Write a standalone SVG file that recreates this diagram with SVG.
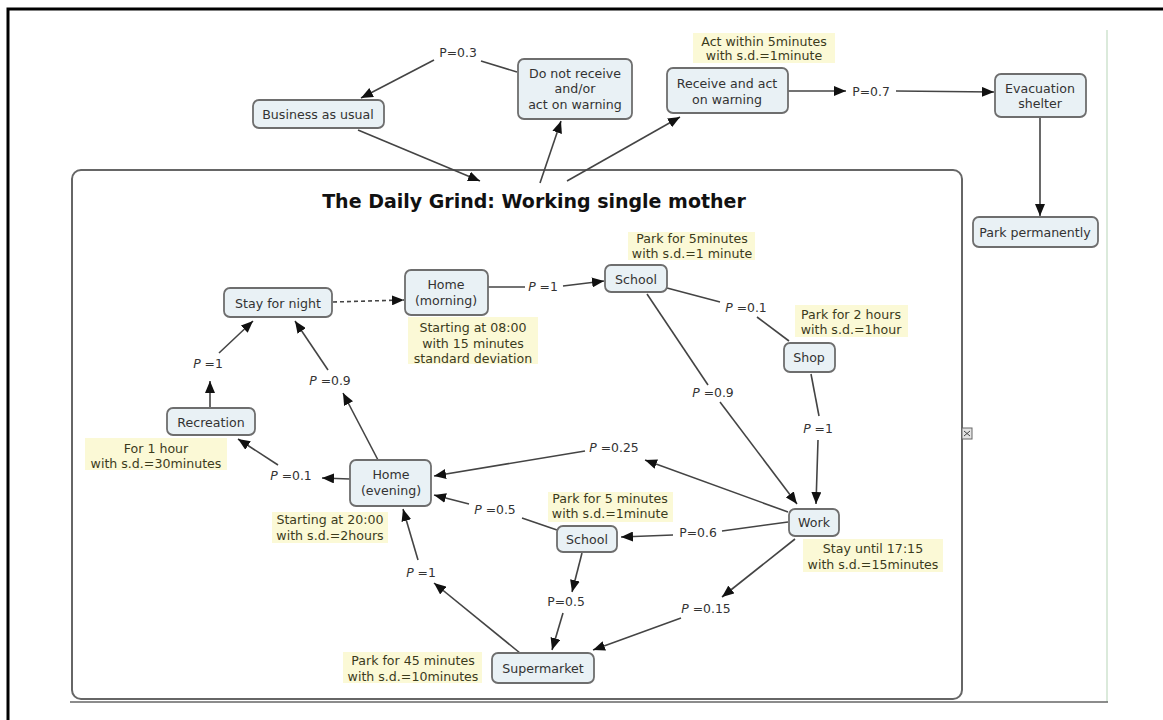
<svg xmlns="http://www.w3.org/2000/svg" width="1163" height="720" viewBox="0 0 1163 720">
  <defs>
    <marker id="arrow" viewBox="0 0 12 10" refX="12" refY="5" markerWidth="12" markerHeight="10" markerUnits="userSpaceOnUse" orient="auto">
      <path d="M0,0 L12,5 L0,10 Z" fill="#111"/>
    </marker>
    <style>
      .frame { stroke: #000; stroke-width: 3; fill: none; }
      .node rect { fill: #e9f1f5; stroke: #6e6e6e; stroke-width: 1.8; }
      .node text { font-family: "DejaVu Sans", Verdana, sans-serif; font-size: 12.6px; fill: #333; text-anchor: middle; }
      .note rect { fill: #fbf9d6; stroke: none; }
      .note text { font-family: "DejaVu Sans", Verdana, sans-serif; font-size: 12.6px; fill: #3b3b1c; text-anchor: middle; }
      .edge { stroke: #444; stroke-width: 1.6; fill: none; }
      .edge.arr { marker-end: url(#arrow); }
      .edge.dash { stroke-dasharray: 4 3; }
      .lbl { font-family: "DejaVu Sans", Verdana, sans-serif; font-size: 12.4px; fill: #333; text-anchor: middle; }
      .lbl .p { font-style: italic; }
      .title { font-family: "DejaVu Sans", Verdana, sans-serif; font-size: 19px; font-weight: bold; fill: #111; text-anchor: middle; }
    </style>
  </defs>

  <rect width="1163" height="720" fill="#fff"/>
  <!-- page frame -->
  <path class="frame" d="M8,720 L8,9 L1163,9"/>
  <!-- image edges -->
  <path d="M1107,30 L1107,702" stroke="#cfe3cf" stroke-width="1.5" fill="none"/>
  <path d="M70,702 L1108,702" stroke="#666" stroke-width="1.5" fill="none"/>

  <!-- sub-map container -->
  <g id="container">
    <rect x="72" y="170" width="890" height="529" rx="9" fill="#fff" stroke="#666" stroke-width="2"/>
    <text class="title" x="534" y="208">The Daily Grind: Working single mother</text>
    <g id="expand-icon">
      <rect x="962" y="428" width="10" height="11" fill="#e4e4e4" stroke="#666" stroke-width="1"/>
      <path d="M964,431 L967,433.5 L964,436 M970,431 L967,433.5 L970,436" stroke="#444" stroke-width="1" fill="none"/>
    </g>
  </g>

  <!-- connectors -->
  <g id="connectors">
    <path class="edge arr" d="M358,130 L480,181"/>
    <path class="edge arr" d="M540,183 L561,121"/>
    <path class="edge arr" d="M567,181 L680,117"/>
    <path class="edge" d="M517,72 L481,61"/>
    <path class="edge arr" d="M434,60 L361,98"/>
    <path class="edge arr" d="M788,91 L846,91"/>
    <path class="edge arr" d="M896,91 L994,92"/>
    <path class="edge arr" d="M1040,117 L1040,216"/>

    <path class="edge dash arr" d="M333,302 L404,300"/>
    <path class="edge" d="M488,287 L525,287"/>
    <path class="edge arr" d="M563,286 L604,281"/>
    <path class="edge" d="M667,288 L720,302"/>
    <path class="edge" d="M757,317 L789,341"/>
    <path class="edge" d="M647,294 L708,385"/>
    <path class="edge arr" d="M720,402 L797,504"/>
    <path class="edge" d="M811,374 L819,416"/>
    <path class="edge arr" d="M818,440 L816,504"/>
    <path class="edge arr" d="M788,512 L645,460"/>
    <path class="edge arr" d="M585,451 L434,476"/>
    <path class="edge" d="M788,522 L722,531"/>
    <path class="edge arr" d="M673,535 L621,537"/>
    <path class="edge arr" d="M795,539 L722,597"/>
    <path class="edge arr" d="M681,618 L593,650"/>
    <path class="edge" d="M557,530 L522,518"/>
    <path class="edge arr" d="M469,504 L434,495"/>
    <path class="edge arr" d="M582,553 L572,592"/>
    <path class="edge arr" d="M563,613 L552,650"/>
    <path class="edge arr" d="M520,653 L434,583"/>
    <path class="edge arr" d="M418,560 L403,509"/>
    <path class="edge arr" d="M350,479 L322,478"/>
    <path class="edge arr" d="M278,465 L238,439"/>
    <path class="edge arr" d="M378,460 L343,393"/>
    <path class="edge arr" d="M328,370 L295,321"/>
    <path class="edge arr" d="M210,408 L210,381"/>
    <path class="edge arr" d="M219,353 L253,321"/>

    <!-- probability labels -->
    <text class="lbl" x="458" y="57">P=0.3</text>
    <text class="lbl" x="871" y="96">P=0.7</text>
    <text class="lbl" x="543" y="291"><tspan class="p">P</tspan> =1</text>
    <text class="lbl" x="746" y="312"><tspan class="p">P</tspan> =0.1</text>
    <text class="lbl" x="713" y="397"><tspan class="p">P</tspan> =0.9</text>
    <text class="lbl" x="818" y="433"><tspan class="p">P</tspan> =1</text>
    <text class="lbl" x="614" y="452"><tspan class="p">P</tspan> =0.25</text>
    <text class="lbl" x="698" y="537">P=0.6</text>
    <text class="lbl" x="495" y="514"><tspan class="p">P</tspan> =0.5</text>
    <text class="lbl" x="566" y="606">P=0.5</text>
    <text class="lbl" x="706" y="613"><tspan class="p">P</tspan> =0.15</text>
    <text class="lbl" x="421" y="577"><tspan class="p">P</tspan> =1</text>
    <text class="lbl" x="291" y="480"><tspan class="p">P</tspan> =0.1</text>
    <text class="lbl" x="330" y="385"><tspan class="p">P</tspan> =0.9</text>
    <text class="lbl" x="208" y="368"><tspan class="p">P</tspan> =1</text>
  </g>

  <!-- nodes -->
  <g id="business-as-usual" class="node">
    <rect x="253" y="100" width="131" height="28" rx="6"/>
    <text x="318" y="118.5">Business as usual</text>
  </g>
  <g id="do-not-receive" class="node">
    <rect x="518" y="59" width="114" height="60" rx="6"/>
    <text x="575" y="77.5">Do not receive</text>
    <text x="575" y="93">and/or</text>
    <text x="575" y="108.5">act on warning</text>
  </g>
  <g id="receive-and-act" class="node">
    <rect x="667" y="68" width="121" height="45" rx="6"/>
    <text x="727" y="87.5">Receive and act</text>
    <text x="727" y="103.5">on warning</text>
  </g>
  <g id="note-act-within" class="note">
    <rect x="693" y="33" width="142" height="30"/>
    <text x="764" y="45.5">Act within 5minutes</text>
    <text x="764" y="59.5">with s.d.=1minute</text>
  </g>
  <g id="evacuation-shelter" class="node">
    <rect x="995" y="74" width="91" height="43" rx="6"/>
    <text x="1040" y="92.5">Evacuation</text>
    <text x="1040" y="107.5">shelter</text>
  </g>
  <g id="park-permanently" class="node">
    <rect x="973" y="217" width="125" height="30" rx="6"/>
    <text x="1035" y="236.5">Park permanently</text>
  </g>

  <g id="stay-for-night" class="node">
    <rect x="224" y="288" width="108" height="29" rx="6"/>
    <text x="278" y="307.5">Stay for night</text>
  </g>
  <g id="home-morning" class="node">
    <rect x="405" y="270" width="83" height="45" rx="6"/>
    <text x="446" y="288.5">Home</text>
    <text x="446" y="304.5">(morning)</text>
  </g>
  <g id="note-home-morning" class="note">
    <rect x="408" y="317" width="130" height="47"/>
    <text x="473" y="331.5">Starting at 08:00</text>
    <text x="473" y="347.5">with 15 minutes</text>
    <text x="473" y="362.5">standard deviation</text>
  </g>
  <g id="school-morning" class="node">
    <rect x="605" y="265" width="62" height="27" rx="6"/>
    <text x="636" y="283.5">School</text>
  </g>
  <g id="note-school-morning" class="note">
    <rect x="628" y="232" width="127" height="28"/>
    <text x="692" y="242.5">Park for 5minutes</text>
    <text x="692" y="257.5">with s.d.=1 minute</text>
  </g>
  <g id="shop" class="node">
    <rect x="784" y="343" width="51" height="29" rx="6"/>
    <text x="809" y="361.5">Shop</text>
  </g>
  <g id="note-shop" class="note">
    <rect x="795" y="305" width="113" height="32"/>
    <text x="851" y="318.5">Park for 2 hours</text>
    <text x="851" y="333.5">with s.d.=1hour</text>
  </g>
  <g id="work" class="node">
    <rect x="789" y="509" width="50" height="27" rx="6"/>
    <text x="814" y="526.5">Work</text>
  </g>
  <g id="note-work" class="note">
    <rect x="803" y="539" width="140" height="33"/>
    <text x="873" y="552.5">Stay until 17:15</text>
    <text x="873" y="568.5">with s.d.=15minutes</text>
  </g>
  <g id="home-evening" class="node">
    <rect x="350" y="460" width="81" height="46" rx="6"/>
    <text x="391" y="478.5">Home</text>
    <text x="391" y="494.5">(evening)</text>
  </g>
  <g id="note-home-evening" class="note">
    <rect x="272" y="512" width="116" height="31"/>
    <text x="330" y="523.5">Starting at 20:00</text>
    <text x="330" y="539.5">with s.d.=2hours</text>
  </g>
  <g id="recreation" class="node">
    <rect x="167" y="408" width="88" height="27" rx="6"/>
    <text x="211" y="426.5">Recreation</text>
  </g>
  <g id="note-recreation" class="note">
    <rect x="85" y="438" width="142" height="32"/>
    <text x="156" y="452.5">For 1 hour</text>
    <text x="156" y="467.5">with s.d.=30minutes</text>
  </g>
  <g id="school-evening" class="node">
    <rect x="557" y="526" width="60" height="26" rx="6"/>
    <text x="587" y="543.5">School</text>
  </g>
  <g id="note-school-evening" class="note">
    <rect x="548" y="492" width="125" height="30"/>
    <text x="610" y="502.5">Park for 5 minutes</text>
    <text x="610" y="517.5">with s.d.=1minute</text>
  </g>
  <g id="supermarket" class="node">
    <rect x="492" y="653" width="102" height="30" rx="6"/>
    <text x="543" y="672.5">Supermarket</text>
  </g>
  <g id="note-supermarket" class="note">
    <rect x="343" y="652" width="139" height="31"/>
    <text x="413" y="664.5">Park for 45 minutes</text>
    <text x="413" y="680.5">with s.d.=10minutes</text>
  </g>
</svg>
